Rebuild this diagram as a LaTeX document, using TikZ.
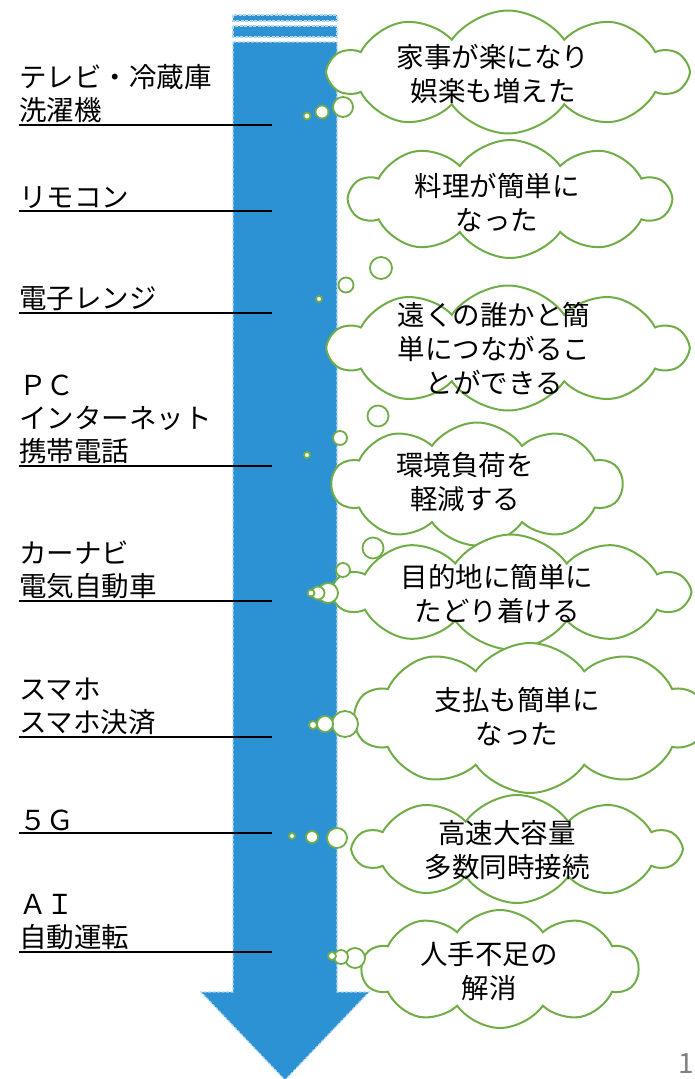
\documentclass[tikz,border=0pt]{standalone}
\usepackage{fontspec}
\setmainfont{Noto Sans CJK JP}
\usepackage{tikz}
\usetikzlibrary{positioning,shapes.symbols}
\definecolor{arrowBlue}{RGB}{44,146,212}
\definecolor{arrowEdge}{RGB}{178,216,240}
\definecolor{cloudGreen}{RGB}{112,173,71}
\tikzstyle{tArrow} = [fill=arrowBlue, draw=arrowEdge, line width=1.2pt, dash pattern=on 3pt off 1.5pt]
\tikzstyle{tLabel} = [inner sep=0pt, align=left, font=\fontsize{27.5}{33}\selectfont]
\tikzstyle{tLine} = [line width=1.6pt, black]
\tikzstyle{tCloud} = [cloud, cloud puffs=10, cloud puff arc=110, cloud ignores aspect, draw=cloudGreen, fill=white, line width=2pt]
\tikzstyle{tSay} = [align=center, inner sep=0pt, font=\fontsize{27.5}{34}\selectfont]
\tikzstyle{tBubble} = [circle, draw=cloudGreen, fill=white, line width=1.8pt, inner sep=0pt]

\begin{document}
\begin{tikzpicture}[x=1pt,y=-1pt]
        \useasboundingbox (0,0) rectangle (694,1079);
        % time arrow
        \fill[tArrow] (233,15) rectangle (337,21);
        \fill[tArrow] (233,26) rectangle (337,37);
        \filldraw[tArrow] (233,42) -- (337,42) -- (337,992) -- (369,992) -- (285,1080) -- (201,992) -- (233,992) -- cycle;
        % technologies
        \coordinate (LineTV) at (19,125);
        \coordinate (LineTVEnd) at (272,125);
        \coordinate (LineRemote) at (19,211);
        \coordinate (LineRemoteEnd) at (272,211);
        \coordinate (LineRange) at (19,313);
        \coordinate (LineRangeEnd) at (272,313);
        \coordinate (LinePC) at (19,466);
        \coordinate (LinePCEnd) at (272,466);
        \coordinate (LineCar) at (19,601);
        \coordinate (LineCarEnd) at (272,601);
        \coordinate (LinePhone) at (19,737);
        \coordinate (LinePhoneEnd) at (272,737);
        \coordinate (LineFiveG) at (19,833);
        \coordinate (LineFiveGEnd) at (272,833);
        \coordinate (LineAI) at (19,952);
        \coordinate (LineAIEnd) at (272,952);
        \node[tLabel] (TV) [above right=2pt and 0pt of LineTV] {テレビ・冷蔵庫\\洗濯機};
        \node[tLabel] (Remote) [above right=2pt and 0pt of LineRemote] {リモコン};
        \node[tLabel] (Range) [above right=2pt and 0pt of LineRange] {電子レンジ};
        \node[tLabel] (PC) [above right=2pt and 0pt of LinePC] {ＰＣ\\インターネット\\携帯電話};
        \node[tLabel] (Car) [above right=2pt and 0pt of LineCar] {カーナビ\\電気自動車};
        \node[tLabel] (Phone) [above right=2pt and 0pt of LinePhone] {スマホ\\スマホ決済};
        \node[tLabel] (FiveG) [above right=2pt and 0pt of LineFiveG] {５Ｇ};
        \node[tLabel] (AI) [above right=2pt and 0pt of LineAI] {ＡＩ\\自動運転};
        \draw[tLine] (LineTV) -- (LineTVEnd);
        \draw[tLine] (LineRemote) -- (LineRemoteEnd);
        \draw[tLine] (LineRange) -- (LineRangeEnd);
        \draw[tLine] (LinePC) -- (LinePCEnd);
        \draw[tLine] (LineCar) -- (LineCarEnd);
        \draw[tLine] (LinePhone) -- (LinePhoneEnd);
        \draw[tLine] (LineFiveG) -- (LineFiveGEnd);
        \draw[tLine] (LineAI) -- (LineAIEnd);
        % thought clouds
        \node[tCloud, minimum width=357pt, minimum height=123pt] (CloudHouse) at (508,72) {};
        \node[tCloud, minimum width=320pt, minimum height=118pt] (CloudCook) at (510,199) {};
        \node[tCloud, minimum width=357pt, minimum height=125pt] (CloudTalk) at (508,348) {};
        \node[tCloud, minimum width=290pt, minimum height=123pt] (CloudEco) at (477,484) {};
        \node[tCloud, minimum width=353pt, minimum height=115pt] (CloudNavi) at (511,592) {};
        \node[tCloud, minimum width=350pt, minimum height=150pt] (CloudPay) at (530,718) {};
        \node[tCloud, minimum width=325pt, minimum height=108pt] (CloudNet) at (517,849) {};
        \node[tCloud, minimum width=276pt, minimum height=118pt] (CloudWork) at (500,969) {};
        \node[tSay] (SayHouse) at ([xshift=-15pt,yshift=-2pt]CloudHouse.center) {家事が楽になり\\娯楽も増えた};
        \node[tSay] (SayCook) at ([xshift=-13pt,yshift=-4pt]CloudCook.center) {料理が簡単に\\なった};
        \node[tSay] (SayTalk) at ([xshift=-14pt,yshift=-1pt]CloudTalk.center) {遠くの誰かと簡\\単につながるこ\\とができる};
        \node[tSay] (SayEco) at ([xshift=-12pt,yshift=2pt]CloudEco.center) {環境負荷を\\軽減する};
        \node[tSay] (SayNavi) at ([xshift=-14pt,yshift=-2pt]CloudNavi.center) {目的地に簡単に\\たどり着ける};
        \node[tSay] (SayPay) at ([xshift=-13pt,yshift=1pt]CloudPay.center) {支払も簡単に\\なった};
        \node[tSay] (SayNet) at ([xshift=-10pt,yshift=-1pt]CloudNet.center) {高速大容量\\多数同時接続};
        \node[tSay] (SayWork) at ([xshift=-11pt,yshift=-2pt]CloudWork.center) {人手不足の\\解消};
        % thought bubbles
        \foreach \x/\y/\d [count=\i] in {307/116/7, 322/112/13, 343/107/20,
                381/268/22, 346/285/15, 319/299/6,
                378/416/21, 340/438/14, 307/455/6,
                373/548/21, 343/570/14,
                328/593/20, 318/593/13, 311/593/7,
                345/724/26, 325/724/16, 313/725/8,
                337/838/20, 312/837/12, 292/836/6,
                355/958/20, 341/957/14, 332/956/8}
            \node[tBubble, minimum size=\d pt] (Bubble\i) at (\x,\y) {};
        % page number
        \node[font=\fontsize{28}{28}\selectfont, text=gray, anchor=base] (PageNo) at (686,1073) {1};
    \end{tikzpicture}
\end{document}
